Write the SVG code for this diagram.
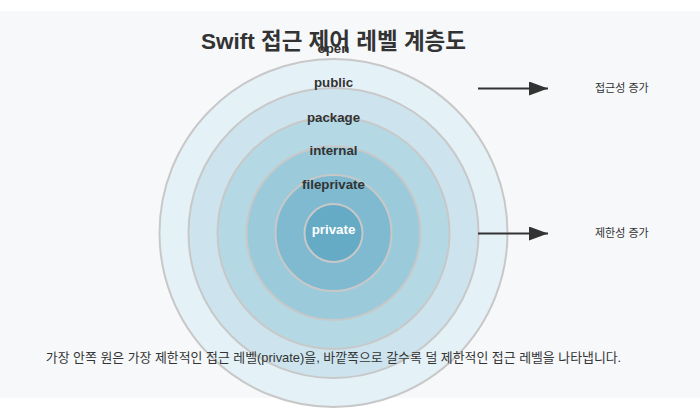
<svg xmlns="http://www.w3.org/2000/svg" width="700" height="414" viewBox="0 0 700 414">
<defs>
<marker id="ah" markerWidth="20" markerHeight="14" refX="19" refY="7" orient="auto" markerUnits="userSpaceOnUse">
<path d="M0,0 L19,7 L0,14 Z" fill="#333"/>
</marker>
<style>
.ring{stroke:#c8c8c8;stroke-width:2}
.lbl{font-family:"Liberation Sans",Arial,sans-serif;font-weight:bold;font-size:13.3px;fill:#333;text-anchor:middle}
.ko{font-family:"Liberation Sans","Noto Sans CJK KR",sans-serif;fill:#333}
.conn{stroke:#333;stroke-width:2;fill:none}
</style>
</defs>
<rect x="0" y="0" width="700" height="414" fill="#ffffff"/>
<rect x="0" y="11" width="700" height="387" fill="#f6f8fa"/>
<text x="333.5" y="49" class="ko" font-size="22.5" font-weight="bold" text-anchor="middle" fill="#333">Swift 접근 제어 레벨 계층도</text>
<g id="open"><circle cx="333.5" cy="233" r="174" class="ring" fill="#e4f1f7"/></g>
<g id="public"><circle cx="333.5" cy="233" r="145" class="ring" fill="#cde4ee"/></g>
<g id="package"><circle cx="333.5" cy="233" r="116" class="ring" fill="#b4d9e5"/></g>
<g id="internal"><circle cx="333.5" cy="233" r="87" class="ring" fill="#9bcbdb"/></g>
<g id="fileprivate"><circle cx="333.5" cy="233" r="58" class="ring" fill="#7fbad0"/></g>
<g id="private"><circle cx="333.5" cy="233" r="29" class="ring" fill="#65abc6"/></g>
<g id="labels">
<text x="333.5" y="52.5" class="lbl">open</text>
<text x="333.5" y="87" class="lbl">public</text>
<text x="333.5" y="121.5" class="lbl">package</text>
<text x="333.5" y="155" class="lbl">internal</text>
<text x="333.5" y="189" class="lbl">fileprivate</text>
<text x="333.5" y="233.5" class="lbl" style="fill:#fff">private</text>
</g>
<g id="connectors">
<line x1="478" y1="88.5" x2="548" y2="88.5" class="conn" marker-end="url(#ah)"/>
<line x1="478" y1="233.5" x2="548" y2="233.5" class="conn" marker-end="url(#ah)"/>
</g>
<g id="legend">
<text x="595" y="92" class="ko" font-size="11">접근성 증가</text>
<text x="595" y="237" class="ko" font-size="11">제한성 증가</text>
</g>
<text x="333.5" y="362" class="ko" font-size="12.9" text-anchor="middle">가장 안쪽 원은 가장 제한적인 접근 레벨(private)을, 바깥쪽으로 갈수록 덜 제한적인 접근 레벨을 나타냅니다.</text>
</svg>
